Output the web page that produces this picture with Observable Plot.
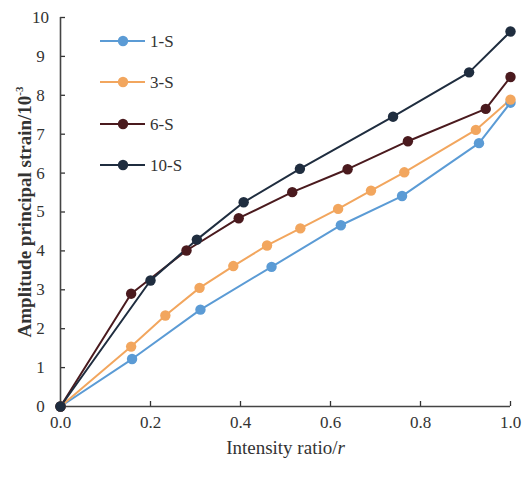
<!DOCTYPE html>
<html><head><meta charset="utf-8">
<script src="https://cdn.jsdelivr.net/npm/d3@7"></script>
<script src="https://cdn.jsdelivr.net/npm/@observablehq/plot@0.6"></script>
<style>
body{margin:0;background:#fff;}
#wrap{position:relative;width:522px;height:480px;}
#legend{position:absolute;left:0;top:0;pointer-events:none;}
</style>
</head><body><div id="wrap"></div>
<script>
const series = ["1-S", "3-S", "6-S", "10-S"];
const colors = ["#5b9bd5", "#f2a65e", "#4a1a1e", "#1f2d3f"];

const x1S = [0, 0.159, 0.311, 0.469, 0.623, 0.759, 0.930, 1.0];
const y1S = [0, 1.22, 2.49, 3.59, 4.66, 5.41, 6.77, 7.81];

const x3S = [0, 0.157, 0.233, 0.309, 0.384, 0.459, 0.533, 0.617, 0.690, 0.764, 0.923, 1.0];
const y3S = [0, 1.54, 2.34, 3.05, 3.61, 4.14, 4.58, 5.08, 5.55, 6.02, 7.11, 7.89];

const x6S = [0, 0.157, 0.280, 0.396, 0.515, 0.638, 0.772, 0.945, 1.0];
const y6S = [0, 2.90, 4.01, 4.84, 5.51, 6.10, 6.82, 7.65, 8.47];

const x10S = [0, 0.200, 0.303, 0.407, 0.532, 0.739, 0.908, 1.0];
const y10S = [0, 3.24, 4.29, 5.25, 6.11, 7.45, 8.59, 9.64];

const xTicks = [0, 0.2, 0.4, 0.6, 0.8, 1.0];
const yTicks = [0, 1, 2, 3, 4, 5, 6, 7, 8, 9, 10];

const xTitle = "Intensity ratio/r";
const yTitle = "Amplitude principal strain/10-3";

const xs = [x1S, x3S, x6S, x10S];
const ys = [y1S, y3S, y6S, y10S];
const data = series.flatMap((s, i) => xs[i].map((x, j) => ({series: s, x, y: ys[i][j]})));

const font = '"Liberation Serif", "Times New Roman", "DejaVu Serif", serif';

const plot = Plot.plot({
  width: 522, height: 480,
  marginLeft: 60, marginRight: 12, marginTop: 17, marginBottom: 74,
  style: {fontFamily: font, fontSize: "17px", color: "#333", background: "#fff"},
  x: {domain: [0, 1]},
  y: {domain: [0, 10]},
  color: {domain: series, range: colors},
  marks: [
    Plot.axisX({ticks: xTicks, tickFormat: d => d.toFixed(1), tickSize: -5, tickPadding: 14, label: null, strokeWidth: 1.3}),
    Plot.axisY({ticks: yTicks, tickFormat: d => String(d), tickSize: -5, tickPadding: 25, textAnchor: "middle", label: null, strokeWidth: 1.3}),
    Plot.ruleX([0], {stroke: "#444", strokeWidth: 1.6}),
    Plot.ruleY([0], {stroke: "#444", strokeWidth: 1.6}),
    Plot.line(data, {x: "x", y: "y", z: "series", stroke: "series", strokeWidth: 2}),
    Plot.dot(data, {x: "x", y: "y", fill: "series", r: 5.2}),
    Plot.text([xTitle], {frameAnchor: "bottom", lineAnchor: "middle", dy: 41, fontSize: 19, fill: "#333"}),
    Plot.text([yTitle], {frameAnchor: "left", textAnchor: "middle", lineAnchor: "middle", dx: -36, rotate: -90, fontSize: 19, fontWeight: "bold", fill: "#333"})
  ]
});

document.getElementById("wrap").appendChild(plot);

d3.select(plot).selectAll("text").each(function() {
  const t = d3.select(this);
  const s = this.textContent;
  if (s === xTitle) {
    t.text(null);
    t.append("tspan").text("Intensity ratio/");
    t.append("tspan").attr("font-style", "italic").text("r");
  } else if (s === yTitle) {
    t.text(null);
    t.append("tspan").text("Amplitude principal strain/10");
    t.append("tspan").attr("font-size", "11px").attr("dy", "-0.7em").text("-3");
  }
});

// legend
const lg = d3.select("#wrap").append("svg").attr("id", "legend").attr("width", 522).attr("height", 480);
const rowY = [41, 82, 124, 165];
series.forEach((s, i) => {
  const g = lg.append("g").attr("transform", `translate(0,${rowY[i]})`);
  g.append("line").attr("x1", 100).attr("x2", 145).attr("y1", 0).attr("y2", 0).attr("stroke", colors[i]).attr("stroke-width", 2);
  g.append("circle").attr("cx", 123).attr("cy", 0).attr("r", 5.2).attr("fill", colors[i]);
  g.append("text").attr("x", 150).attr("y", 0).attr("dy", "0.35em").attr("font-family", font).attr("font-size", 17).attr("fill", "#333").text(s);
});
</script>
</body></html>
